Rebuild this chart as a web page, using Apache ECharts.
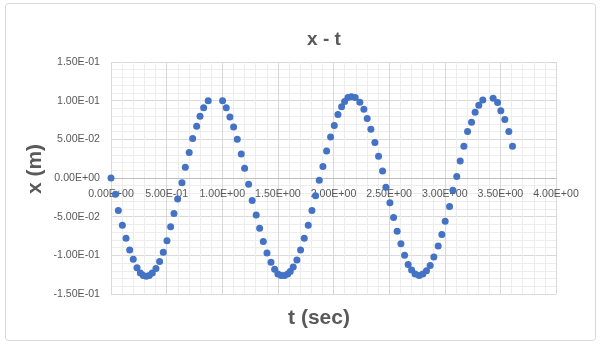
<!DOCTYPE html>
<html>
<head>
<meta charset="utf-8">
<script src="https://cdn.jsdelivr.net/npm/echarts@6/dist/echarts.min.js"></script>
<style>
html,body{margin:0;padding:0;background:#fff;}
#c{width:602px;height:348px;}
</style>
</head>
<body>
<div id="c"></div>
<script>
// time (s)
const tValues = [
  0.000, 0.040, 0.066, 0.102, 0.135, 0.168, 0.200, 0.234, 0.264, 0.290,
  0.317, 0.344, 0.371, 0.404, 0.437, 0.470, 0.503, 0.536, 0.566, 0.599,
  0.638, 0.668, 0.703, 0.734, 0.770, 0.800, 0.833, 0.874,
  1.003, 1.036, 1.069, 1.102, 1.135, 1.171, 1.201, 1.237, 1.269, 1.305,
  1.336, 1.369, 1.402, 1.438, 1.471, 1.500, 1.530, 1.560, 1.588, 1.611,
  1.638, 1.671, 1.704, 1.737, 1.773, 1.806, 1.839, 1.872, 1.905, 1.938,
  1.974, 2.007, 2.040, 2.073, 2.100, 2.130, 2.160, 2.195, 2.237, 2.273,
  2.303, 2.336, 2.372, 2.405, 2.441, 2.471, 2.507, 2.540, 2.572, 2.606,
  2.639, 2.671, 2.702, 2.734, 2.770, 2.803, 2.836, 2.869, 2.902, 2.941,
  2.974, 3.004, 3.043, 3.073, 3.108, 3.139, 3.172, 3.205, 3.241, 3.273,
  3.306, 3.342, 3.435, 3.475, 3.504, 3.540, 3.576, 3.609
];
// position x (m)
const xValues = [
  0.000, -0.021, -0.042, -0.061, -0.078, -0.093, -0.105, -0.116, -0.123, -0.126,
  -0.127, -0.126, -0.123, -0.117, -0.108, -0.096, -0.081, -0.063, -0.046, -0.027,
  -0.006, 0.014, 0.033, 0.051, 0.067, 0.080, 0.091, 0.100,
  0.100, 0.091, 0.079, 0.066, 0.050, 0.031, 0.0125, -0.008, -0.029, -0.048,
  -0.065, -0.082, -0.097, -0.109, -0.118, -0.124, -0.126, -0.126, -0.124, -0.121,
  -0.115, -0.106, -0.093, -0.078, -0.061, -0.042, -0.023, -0.003, 0.015, 0.035,
  0.053, 0.068, 0.082, 0.092, 0.099, 0.104, 0.105, 0.104, 0.098, 0.089,
  0.077, 0.063, 0.046, 0.028, 0.009, -0.012, -0.032, -0.051, -0.069, -0.085,
  -0.100, -0.112, -0.119, -0.124, -0.126, -0.124, -0.120, -0.113, -0.102, -0.088,
  -0.073, -0.056, -0.037, -0.016, 0.002, 0.022, 0.041, 0.060, 0.072, 0.085,
  0.094, 0.101, 0.103, 0.0975, 0.087, 0.0755, 0.060, 0.041
];
const chartTitle = 'x - t';
const xAxisTitle = 't (sec)';
const yAxisTitle = 'x (m)';

function sci(v) {
  if (Math.abs(v) < 1e-12) return '0.00E+00';
  let e = Math.floor(Math.log10(Math.abs(v)));
  let m = v / Math.pow(10, e);
  if (Math.abs(m) >= 9.995) { m /= 10; e += 1; }
  return m.toFixed(2) + 'E' + (e < 0 ? '-' : '+') + String(Math.abs(e)).padStart(2, '0');
}

const data = tValues.map((t, i) => [t, xValues[i]]);
const FONT = 'Liberation Sans';
const GREY = '#595959';
const GRID_H = 348 - 62 - 54;

const chart = echarts.init(document.getElementById('c'), null, {renderer: 'canvas'});
chart.setOption({
  backgroundColor: '#ffffff',
  animation: false,
  grid: {left: 111, right: 46, top: 62, bottom: 54, containLabel: false},
  xAxis: {
    type: 'value', min: 0, max: 4, interval: 0.5,
    position: 'bottom',
    offset: -GRID_H / 2,
    axisLine: {show: true, onZero: false, lineStyle: {color: '#bfbfbf', width: 1}},
    axisTick: {show: false},
    axisLabel: {formatter: sci, color: GREY, fontFamily: FONT, fontSize: 10.6, margin: 11},
    splitLine: {show: true, lineStyle: {color: '#d9d9d9', width: 1}},
    minorTick: {show: false, splitNumber: 5},
    minorSplitLine: {show: true, lineStyle: {color: '#ededed', width: 1}}
  },
  yAxis: {
    type: 'value', min: -0.15, max: 0.15, interval: 0.05,
    axisLine: {show: false},
    axisTick: {show: false},
    axisLabel: {formatter: sci, color: GREY, fontFamily: FONT, fontSize: 10.6, margin: 11},
    splitLine: {show: true, lineStyle: {color: '#d9d9d9', width: 1}},
    minorTick: {show: false, splitNumber: 5},
    minorSplitLine: {show: true, lineStyle: {color: '#ededed', width: 1}}
  },
  series: [{
    type: 'scatter',
    data: data,
    symbol: 'circle',
    symbolSize: 7,
    itemStyle: {color: '#4472C4', opacity: 1},
    z: 5
  }],
  graphic: [
    {type: 'rect', silent: true, z: -10,
     shape: {x: 5.5, y: 3.5, width: 590, height: 337, r: 3},
     style: {fill: 'none', stroke: '#d9d9d9', lineWidth: 1}},
    {type: 'text', x: 324, y: 40,
     style: {text: chartTitle, fill: GREY, font: 'bold 19px "Liberation Sans"', textAlign: 'center', textVerticalAlign: 'middle'}},
    {type: 'text', x: 319, y: 318,
     style: {text: xAxisTitle, fill: GREY, font: 'bold 21px "Liberation Sans"', textAlign: 'center', textVerticalAlign: 'middle'}},
    {type: 'text', x: 35, y: 169, rotation: Math.PI / 2,
     style: {text: yAxisTitle, fill: GREY, font: 'bold 21px "Liberation Sans"', textAlign: 'center', textVerticalAlign: 'middle'}}
  ]
});
</script>
</body>
</html>
